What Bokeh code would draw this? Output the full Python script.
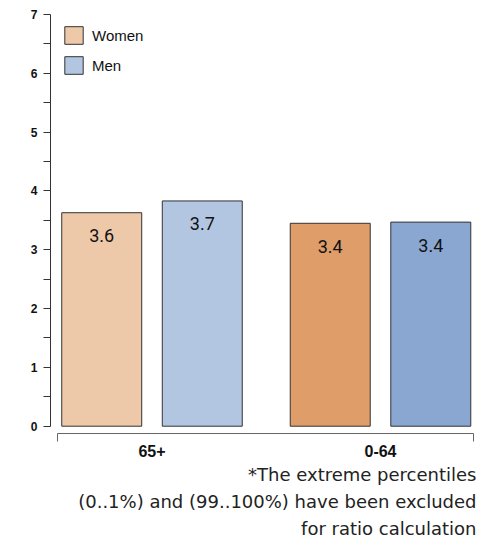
from bokeh.plotting import figure
from bokeh.models import Range1d, FixedTicker, ColumnDataSource, Legend, LegendItem, Title, LinearAxis
from bokeh.embed import file_html
from bokeh.resources import INLINE
from bokeh.core.properties import value

# ---- data ----
groups = ["65+", "0-64"]
women = [3.63, 3.45]
men = [3.83, 3.47]
women_labels = ["3.6", "3.4"]
men_labels = ["3.7", "3.4"]
women_colors = ["#EDC8A9", "#DE9D69"]
men_colors = ["#B3C6E1", "#8AA7D1"]
y_ticks = [0, 1, 2, 3, 4, 5, 6, 7]
y_minor = [0.5, 1.5, 2.5, 3.5, 4.5, 5.5, 6.5]
footnote = ["*The extreme percentiles",
            "(0..1%) and (99..100%) have been excluded",
            "for ratio calculation"]

# ---- layout constants ----
OFF = 0.22
BW = 0.35
gx = list(range(len(groups)))
wx = [g - OFF for g in gx]
mx = [g + OFF for g in gx]

p = figure(width=492, height=544, output_backend="svg", toolbar_location=None,
           x_range=Range1d(-0.4442, 1.4551), y_range=Range1d(-0.124, 7.034),
           min_border_left=50, min_border_right=8, min_border_top=12, min_border_bottom=111,
           x_axis_location=None, y_axis_location=None)
p.outline_line_color = None
p.xgrid.visible = False
p.ygrid.visible = False

yax = LinearAxis(ticker=FixedTicker(ticks=y_ticks, minor_ticks=y_minor), bounds=(0, 7))
yax.major_tick_out = 7
yax.major_tick_in = 0
yax.minor_tick_out = 7
yax.minor_tick_in = 0
yax.axis_line_color = "#333333"
yax.major_tick_line_color = "#333333"
yax.minor_tick_line_color = "#333333"
yax.major_label_standoff = 6
yax.major_label_text_font = "Liberation Sans"
yax.major_label_text_font_style = "bold"
yax.major_label_text_font_size = "12px"
yax.major_label_text_color = "#111111"
p.add_layout(yax, "left")

ends = [-0.4114, 1.4070]
xax = LinearAxis(ticker=FixedTicker(ticks=gx, minor_ticks=ends), bounds=(ends[0], ends[1]))
xax.major_label_overrides = {g: name for g, name in zip(gx, groups)}
xax.major_tick_out = 0
xax.major_tick_in = 0
xax.minor_tick_out = 8
xax.minor_tick_in = 0
xax.axis_line_color = "#666666"
xax.minor_tick_line_color = "#666666"
xax.major_label_standoff = 3
xax.major_label_text_font = "Liberation Sans"
xax.major_label_text_font_style = "bold"
xax.major_label_text_font_size = "16px"
xax.major_label_text_color = "#111111"
p.add_layout(xax, "below")

for line in footnote:
    p.add_layout(Title(text=line, align="right", offset=8, standoff=4,
                       text_font="DejaVu Sans", text_font_style="normal", text_font_size="18px",
                       text_color="#222222"), "below")

sw = ColumnDataSource(dict(x=wx, top=women, color=women_colors, label=women_labels))
sm = ColumnDataSource(dict(x=mx, top=men, color=men_colors, label=men_labels))

rw = p.vbar(x="x", top="top", bottom=0, width=BW, fill_color="color", line_color="#333333",
            line_width=1, source=sw)
rm = p.vbar(x="x", top="top", bottom=0, width=BW, fill_color="color", line_color="#333333",
            line_width=1, source=sm)

for s in (sw, sm):
    p.text(x="x", y="top", text="label", source=s, text_align="center", text_baseline="middle",
           y_offset=23, text_font=value("Roboto"), text_font_size="18px",
           text_color="#111111")

legend = Legend(items=[LegendItem(label="Women", renderers=[rw], index=0),
                       LegendItem(label="Men", renderers=[rm], index=0)],
                location=(12, 357), margin=0, padding=0, spacing=8,
                glyph_width=23, glyph_height=22, label_standoff=7,
                label_text_font="Liberation Sans", label_text_font_size="15px",
                label_text_color="#111111",
                border_line_color=None, background_fill_alpha=0)
p.add_layout(legend, "center")

open("out.html", "w").write(file_html(p, INLINE))
